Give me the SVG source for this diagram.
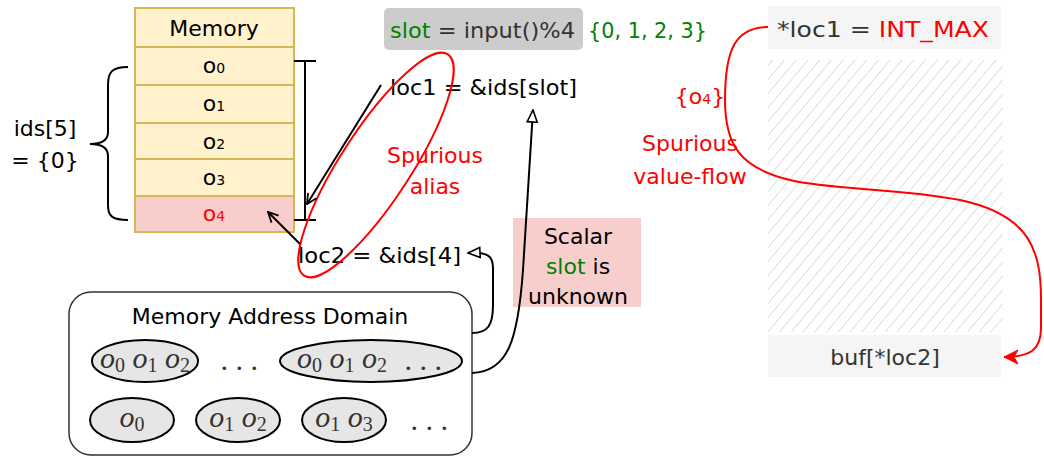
<svg xmlns="http://www.w3.org/2000/svg" width="1044" height="456" viewBox="0 0 1044 456">
<defs>
<style>
.t{font-family:"DejaVu Sans","Liberation Sans",sans-serif;font-size:22px;fill:#000}
.c{text-anchor:middle}
.red{fill:#ff0000}
.grn{fill:#008000}
.dk{fill:#333333}
.m{font-family:"Liberation Serif","Times New Roman",serif;font-style:italic;font-size:30px;fill:#333;text-anchor:middle}
.sub{font-style:normal;font-size:20px}
.cell{fill:#fff2cc;stroke:#d6b656;stroke-width:2}
.ln{fill:none;stroke:#000;stroke-width:2}
.ell{fill:#e6e6e6;stroke:#000;stroke-width:2}
</style>
<marker id="openArr" viewBox="0 0 12 12" refX="11" refY="6" markerWidth="12" markerHeight="12" markerUnits="userSpaceOnUse" orient="auto">
<path d="M1,1 L11,6 L1,11" fill="none" stroke="#000" stroke-width="1.8"/>
</marker>
<marker id="triArr" viewBox="0 0 14 14" refX="13" refY="7" markerWidth="14" markerHeight="14" markerUnits="userSpaceOnUse" orient="auto">
<path d="M1,2 L13,7 L1,12 Z" fill="#fff" stroke="#000" stroke-width="1.6"/>
</marker>
<marker id="redArr" viewBox="0 0 16 16" refX="15" refY="8" markerWidth="16" markerHeight="16" markerUnits="userSpaceOnUse" orient="auto">
<path d="M1,1 L15,8 L1,15 L5,8 Z" fill="#ff0000" stroke="#ff0000" stroke-width="1"/>
</marker>
<pattern id="hatch" width="9" height="9" patternUnits="userSpaceOnUse" patternTransform="rotate(40)">
<line x1="0" y1="0" x2="0" y2="9" stroke="#d4d4d4" stroke-width="1.5"/>
</pattern>
</defs>

<g id="memory">
<rect class="cell" x="135" y="8" width="159" height="39"/>
<rect class="cell" x="135" y="47" width="159" height="38"/>
<rect class="cell" x="135" y="85" width="159" height="38"/>
<rect class="cell" x="135" y="123" width="159" height="36"/>
<rect class="cell" x="135" y="159" width="159" height="37"/>
<rect x="135" y="196" width="159" height="36" fill="#f8cecc" stroke="#d6b656" stroke-width="2"/>
<text class="t c" x="214" y="36">Memory</text>
<text class="t c" x="214" y="73">o<tspan font-size="14">0</tspan></text>
<text class="t c" x="214" y="111">o<tspan font-size="14">1</tspan></text>
<text class="t c" x="214" y="149">o<tspan font-size="14">2</tspan></text>
<text class="t c" x="214" y="185">o<tspan font-size="14">3</tspan></text>
<text class="t c red" x="214" y="221">o<tspan font-size="14">4</tspan></text>
</g>

<g id="ids-brace">
<path class="ln" d="M128,67 C112,67 108,72 108,85 L108,132 C108,140 102,144 90,144 C102,144 108,148 108,156 L108,205 C108,216 112,220 128,220"/>
<text class="t c" x="45" y="136">ids[5]</text>
<text class="t c" x="45" y="168">= {0}</text>
</g>

<g id="range-bar">
<path class="ln" d="M294,61 L316,61 M305,61 L305,220 M294,220 L316,220"/>
</g>

<g id="slot">
<rect x="384" y="8" width="199" height="42" rx="5" fill="#cccccc"/>
<text class="t" x="390" y="38" textLength="185" lengthAdjust="spacingAndGlyphs"><tspan class="grn">slot</tspan><tspan class="dk"> = input()%4</tspan></text>
<text class="t grn" x="588" y="38" textLength="119" lengthAdjust="spacingAndGlyphs">{0, 1, 2, 3}</text>
</g>

<g id="loc1">
<text class="t" x="390" y="95" textLength="187" lengthAdjust="spacingAndGlyphs">loc1 = &amp;ids[slot]</text>
</g>

<g id="loc2">
<text class="t" x="298" y="263" textLength="163" lengthAdjust="spacingAndGlyphs">loc2 = &amp;ids[4]</text>
</g>

<g id="spurious-alias">
<ellipse cx="376" cy="165" rx="132" ry="35" fill="none" stroke="#ff0000" stroke-width="2" transform="rotate(-57 376 165)"/>
<text class="t c red" x="435" y="163">Spurious</text>
<text class="t c red" x="435" y="194">alias</text>
</g>

<g id="scalar-note">
<rect x="513" y="218" width="128" height="89" fill="#f8cecc"/>
<text class="t c" x="578" y="244">Scalar</text>
<text class="t c" x="578" y="274"><tspan class="grn">slot</tspan> is</text>
<text class="t c" x="578" y="304">unknown</text>
</g>

<g id="domain">
<rect x="69" y="292" width="403" height="163" rx="22" fill="#fff" stroke="#333" stroke-width="1.5"/>
<text class="t c" x="270" y="324">Memory Address Domain</text>
<ellipse class="ell" cx="145" cy="361" rx="53" ry="21"/>
<text class="m" x="145" y="368">o<tspan class="sub" dy="4">0</tspan><tspan dy="-4"> o</tspan><tspan class="sub" dy="4">1</tspan><tspan dy="-4"> o</tspan><tspan class="sub" dy="4">2</tspan></text>
<text class="m" x="240" y="370" font-style="normal">. . .</text>
<ellipse class="ell" cx="371" cy="361" rx="91" ry="21"/>
<text class="m" x="342" y="368">o<tspan class="sub" dy="4">0</tspan><tspan dy="-4"> o</tspan><tspan class="sub" dy="4">1</tspan><tspan dy="-4"> o</tspan><tspan class="sub" dy="4">2</tspan></text>
<text class="m" x="424" y="370" font-style="normal">. . .</text>
<ellipse class="ell" cx="132" cy="420" rx="42" ry="22"/>
<text class="m" x="132" y="427">o<tspan class="sub" dy="4">0</tspan></text>
<ellipse class="ell" cx="238" cy="420" rx="42" ry="22"/>
<text class="m" x="238" y="427">o<tspan class="sub" dy="4">1</tspan><tspan dy="-4"> o</tspan><tspan class="sub" dy="4">2</tspan></text>
<ellipse class="ell" cx="344" cy="420" rx="42" ry="22"/>
<text class="m" x="344" y="427">o<tspan class="sub" dy="4">1</tspan><tspan dy="-4"> o</tspan><tspan class="sub" dy="4">3</tspan></text>
<text class="m" x="430" y="430" font-style="normal">. . .</text>
</g>

<g id="store">
<rect x="768" y="6" width="233" height="43" fill="#f5f5f5"/>
<text class="t" x="777" y="37" textLength="212" lengthAdjust="spacingAndGlyphs"><tspan class="dk">*loc1 = </tspan><tspan class="red">INT_MAX</tspan></text>
</g>

<g id="hatch-area">
<rect x="768" y="60" width="235" height="272" fill="url(#hatch)"/>
</g>

<g id="use">
<rect x="768" y="335" width="233" height="42" fill="#f5f5f5"/>
<text class="t c dk" x="885" y="365">buf[*loc2]</text>
</g>

<g id="value-flow-labels">
<text class="t c red" x="700" y="104">{o<tspan font-size="14">4</tspan>}</text>
<text class="t c red" x="690" y="151">Spurious</text>
<text class="t c red" x="690" y="184">value-flow</text>
</g>

<g id="connectors">
<path class="ln" d="M381,85 L307,204" marker-end="url(#openArr)"/>
<path class="ln" d="M300,244 L268,212" marker-end="url(#openArr)"/>
<path class="ln" d="M472,373 C508,372 518,340 523,270 L533,110" marker-end="url(#triArr)"/>
<path class="ln" d="M472,333 C488,333 493,325 493,305 L493,268 C493,256 488,252 468,253" marker-end="url(#triArr)"/>
<path d="M768,27 C735,27 725,50 725,100 C725,145 740,168 790,180 C830,190 900,188 960,200 C1030,215 1041,250 1041,300 L1041,328 C1041,350 1030,357 1004,357" fill="none" stroke="#ff0000" stroke-width="2" marker-end="url(#redArr)"/>
</g>
</svg>
